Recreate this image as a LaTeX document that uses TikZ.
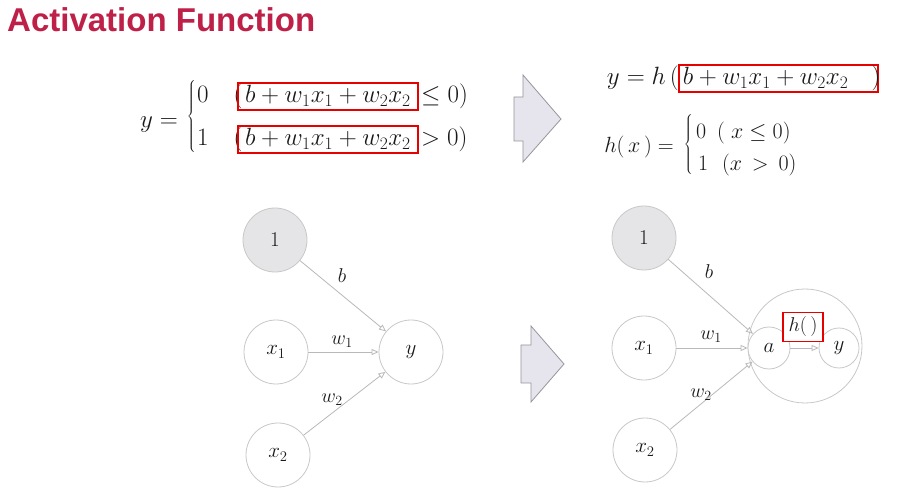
\RequirePackage{fix-cm}
\documentclass[tikz,border=0pt]{standalone}
\usepackage{fontspec}
\newfontfamily\titlefont{Liberation Sans}
\usetikzlibrary{arrows.meta}
\definecolor{titlered}{RGB}{190,32,72}
\definecolor{linegray}{RGB}{185,185,185}
\definecolor{circgray}{RGB}{200,200,200}
\definecolor{onefill}{RGB}{229,229,231}
\definecolor{blockfill}{RGB}{230,228,236}
\definecolor{blockdraw}{RGB}{150,150,156}
\definecolor{ink}{RGB}{25,25,25}
\definecolor{boxred}{RGB}{230,0,0}
\begin{document}
\begin{tikzpicture}[x=1pt,y=-1pt,
  neuron/.style={circle,draw=circgray,line width=0.8pt,minimum size=64pt,inner sep=0pt,text=ink,font=\fontsize{21}{24}\selectfont},
  conn/.style={draw=linegray,line width=0.8pt,-{Triangle[open,length=7pt,width=6pt]}},
  elabel/.style={inner sep=0pt,text=ink,font=\fontsize{20}{23}\selectfont},
  eqfont/.style={inner sep=0pt,text=ink,font=\fontsize{25}{30}\selectfont},
  eqsmall/.style={inner sep=0pt,text=ink,font=\fontsize{22}{26}\selectfont},
  redbox/.style={draw=boxred,line width=1.6pt,inner xsep=4pt,inner ysep=2pt,text height=18pt,text depth=5pt},
  blockarrow/.style={fill=blockfill,draw=blockdraw,line width=0.8pt}]
\useasboundingbox (0,0) rectangle (898,497);
\fill[white] (0,0) rectangle (898,497);

% title
\node[anchor=base west,inner sep=0pt,text=titlered,font=\titlefont\bfseries\fontsize{33}{36}\selectfont] (title) at (7,32) {Activation Function};

% left equation
\node[eqfont,anchor=base east] (ylhs) at (178,128) {$y=$};
\node[eqfont,anchor=east] (bracel) at (196,117.5) {\nulldelimiterspace=0pt$\left\{\vrule height 32pt depth 32pt width 0pt\right.$};
\node[eqfont,anchor=base west] (r0) at (197,103) {$0$};
\node[eqfont,anchor=base] (p0) at (238,103) {$($};
\node[eqfont,redbox,anchor=base,minimum width=180pt] (f0) at (328,103) {$b+w_1x_1+w_2x_2$};
\node[eqfont,anchor=base west] (c0) at (421,103) {$\leq 0)$};
\node[eqfont,anchor=base west] (r1) at (197,146) {$1$};
\node[eqfont,anchor=base] (p1) at (238,146) {$($};
\node[eqfont,redbox,anchor=base,minimum width=180pt] (f1) at (328,146) {$b+w_1x_1+w_2x_2$};
\node[eqfont,anchor=base west] (c1) at (421,146) {$>0)$};

% block arrows
\draw[blockarrow] (514,97) -- (523,97) -- (523,75) -- (561,119) -- (523,162) -- (523,141) -- (514,141) -- cycle;
\draw[blockarrow] (521,345) -- (531,345) -- (531,326) -- (564,364) -- (531,402) -- (531,383) -- (521,383) -- cycle;

% right equations
\node[eqfont,anchor=base east] (yh) at (679,85) {$y=h\,($};
\node[eqfont,redbox,anchor=base west,text width=191pt,align=left] (fh) at (678,85) {$b+w_1x_1+w_2x_2$};
\node[eqfont,anchor=base] (ph) at (876,85) {$)$};
\node[eqsmall,anchor=base east] (hx) at (674,153) {$h(\,x\,)=$};
\node[eqsmall,anchor=east] (braceh) at (693,145) {\nulldelimiterspace=0pt$\left\{\vrule height 26pt depth 26pt width 0pt\right.$};
\node[eqsmall,anchor=base west] (h0) at (696,139) {$0$};
\node[eqsmall,anchor=base west] (h0c) at (717,139) {$(\;x\leq 0)$};
\node[eqsmall,anchor=base west] (h1) at (698,171) {$1$};
\node[eqsmall,anchor=base west] (h1c) at (722,171) {$(x\,>\,0)$};

% left network
\node[neuron,fill=onefill] (one) at (275,240) {$1$};
\node[neuron] (x1) at (276,352) {$x_1$};
\node[neuron] (x2) at (278,455) {$x_2$};
\node[neuron] (y) at (411,352) {$y$};
\draw[conn] (one) -- (y);
\draw[conn] (x1) -- (y);
\draw[conn] (x2) -- (y);
\node[elabel] (lb) at (342,276) {$b$};
\node[elabel] (lw1) at (342,342) {$w_1$};
\node[elabel] (lw2) at (332,400) {$w_2$};

% right network
\node[neuron,minimum size=114pt] (big) at (805,346) {};
\node[neuron,fill=onefill] (one2) at (644,238) {$1$};
\node[neuron] (x1r) at (644,348) {$x_1$};
\node[neuron] (x2r) at (645,450) {$x_2$};
\node[neuron,fill=white,minimum size=42pt] (a) at (769,348) {$a$};
\node[neuron,fill=white,minimum size=40pt] (yr) at (839,348) {$y$};
\draw[conn] (one2) -- (a);
\draw[conn] (x1r) -- (a);
\draw[conn] (x2r) -- (a);
\draw[conn] (a) -- (yr);
\node[draw=boxred,line width=1.6pt,fill=white,inner sep=1pt,minimum width=40pt,minimum height=29pt,text=ink,font=\fontsize{20}{23}\selectfont] (hbox) at (803,327) {$h(\,)$};
\node[elabel] (rb) at (709,272) {$b$};
\node[elabel] (rw1) at (711,337) {$w_1$};
\node[elabel] (rw2) at (701,395) {$w_2$};
\end{tikzpicture}
\end{document}
